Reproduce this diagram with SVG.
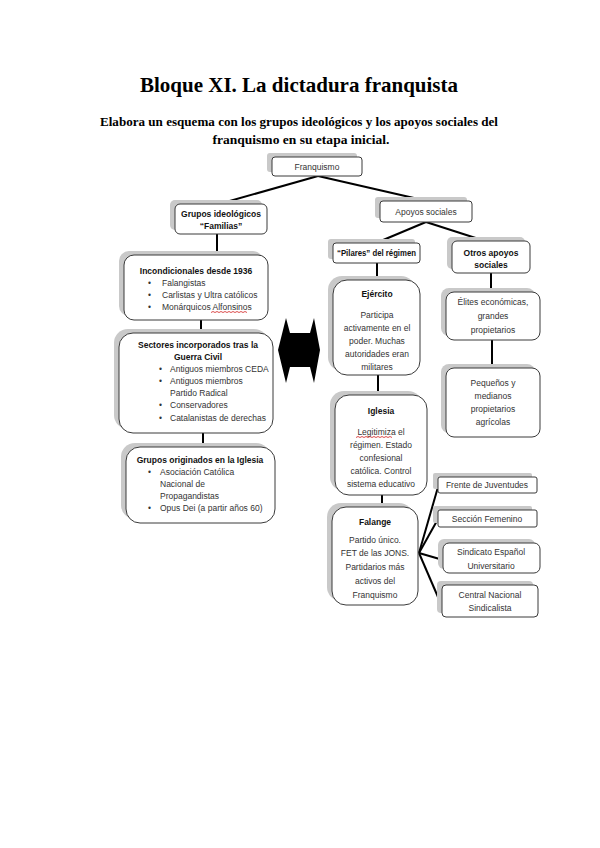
<svg xmlns="http://www.w3.org/2000/svg" width="600" height="848" viewBox="0 0 600 848">
<style>
.sh{fill:#c9c9c9}
.bx{fill:#fff;stroke:#3a3a3a;stroke-width:1}
.t{font-family:"Liberation Sans",Arial,sans-serif;font-size:8.5px;fill:#333}
.b{font-weight:bold;fill:#111}
.c{text-anchor:middle}
.ln{stroke:#000;stroke-width:2;fill:none}
.sq{stroke:#d02020;stroke-width:0.8;fill:none}
.hd{font-family:"Liberation Serif","Times New Roman",serif;font-weight:bold;fill:#000;text-anchor:middle}
</style>
<rect width="600" height="848" fill="#fff"/>
<g id="title">
<text class="hd" x="299" y="92" font-size="21" textLength="318" lengthAdjust="spacingAndGlyphs">Bloque XI. La dictadura franquista</text>
<text class="hd" x="299" y="126" font-size="12.5" textLength="398" lengthAdjust="spacingAndGlyphs">Elabora un esquema con los grupos ideológicos y los apoyos sociales del</text>
<text class="hd" x="301" y="144" font-size="12.5" textLength="177" lengthAdjust="spacingAndGlyphs">franquismo en su etapa inicial.</text>
</g>
<g id="connectors">
<line class="ln" x1="318" y1="176" x2="219" y2="204"/>
<line class="ln" x1="318" y1="176" x2="427" y2="201"/>
<line class="ln" x1="217" y1="234" x2="217" y2="255"/>
<line class="ln" x1="201" y1="320" x2="201" y2="333"/>
<line class="ln" x1="203" y1="433" x2="203" y2="447"/>
<line class="ln" x1="426" y1="222" x2="376" y2="243"/>
<line class="ln" x1="426" y1="222" x2="485" y2="241"/>
<line class="ln" x1="377" y1="263" x2="377" y2="280"/>
<line class="ln" x1="378" y1="375" x2="378" y2="395"/>
<line class="ln" x1="382" y1="495" x2="382" y2="507"/>
<line class="ln" x1="491" y1="273" x2="491" y2="292"/>
<line class="ln" x1="492" y1="340" x2="492" y2="368"/>
<line class="ln" x1="419" y1="553" x2="438" y2="487"/>
<line class="ln" x1="419" y1="553" x2="438" y2="519"/>
<line class="ln" x1="419" y1="553" x2="443" y2="560"/>
<line class="ln" x1="419" y1="553" x2="441" y2="604"/>
</g>
<g id="double-arrow">
<polygon points="286,318 290,333 310,333 314,318 320,350 314,383 310,367 290,367 286,383 278,350" fill="#000"/>
</g>
<g id="franquismo">
<rect class="sh" x="267" y="153" width="90" height="19" rx="3"/>
<rect class="bx" x="272" y="157" width="90" height="19" rx="3"/>
<text class="t c" x="317" y="170">Franquismo</text>
</g>
<g id="grupos-ideologicos">
<rect class="sh" x="170" y="200" width="92" height="30" rx="5"/>
<rect class="bx" x="175" y="204" width="92" height="30" rx="5"/>
<text class="t b c" x="221" y="217">Grupos ideológicos</text>
<text class="t b c" x="221" y="229">“Familias”</text>
</g>
<g id="apoyos-sociales">
<rect class="sh" x="375" y="197" width="92" height="21" rx="3"/>
<rect class="bx" x="380" y="201" width="92" height="21" rx="3"/>
<text class="t c" x="426" y="215">Apoyos sociales</text>
</g>
<g id="incondicionales">
<rect class="sh" x="119" y="251" width="144" height="65" rx="10"/>
<rect class="bx" x="124" y="255" width="144" height="65" rx="10"/>
<text class="t b c" x="196" y="274">Incondicionales desde 1936</text>
<text class="t" x="148" y="286">•</text><text class="t" x="162" y="286">Falangistas</text>
<text class="t" x="148" y="298">•</text><text class="t" x="162" y="298">Carlistas y Ultra católicos</text>
<text class="t" x="148" y="310">•</text><text class="t" x="162" y="310">Monárquicos Alfonsinos</text>
<path class="sq" d="M211,312.5 l2,-1 l2,1 l2,-1 l2,1 l2,-1 l2,1 l2,-1 l2,1 l2,-1 l2,1 l2,-1 l2,1 l2,-1 l2,1 l2,-1 l2,1 l2,-1 l2,1"/>
</g>
<g id="sectores">
<rect class="sh" x="114" y="329" width="154" height="100" rx="14"/>
<rect class="bx" x="119" y="333" width="154" height="100" rx="14"/>
<text class="t b c" x="198" y="348">Sectores incorporados tras la</text>
<text class="t b c" x="198" y="360">Guerra Civil</text>
<text class="t" x="159" y="372">•</text><text class="t" x="170" y="372">Antiguos miembros CEDA</text>
<text class="t" x="159" y="384">•</text><text class="t" x="170" y="384">Antiguos miembros</text>
<text class="t" x="170" y="396">Partido Radical</text>
<text class="t" x="159" y="408">•</text><text class="t" x="170" y="408">Conservadores</text>
<text class="t" x="159" y="421">•</text><text class="t" x="170" y="421">Catalanistas de derechas</text>
</g>
<g id="grupos-iglesia">
<rect class="sh" x="121" y="443" width="149" height="76" rx="14"/>
<rect class="bx" x="126" y="447" width="149" height="76" rx="14"/>
<text class="t b c" x="200" y="463">Grupos originados en la Iglesia</text>
<text class="t" x="148" y="475">•</text><text class="t" x="160" y="475">Asociación Católica</text>
<text class="t" x="160" y="487">Nacional de</text>
<text class="t" x="160" y="499">Propagandistas</text>
<text class="t" x="148" y="511">•</text><text class="t" x="160" y="511">Opus Dei (a partir años 60)</text>
</g>
<g id="pilares">
<rect class="sh" x="328" y="239" width="87" height="20" rx="3"/>
<rect class="bx" x="333" y="243" width="87" height="20" rx="3"/>
<text class="t b c" x="376.5" y="256" textLength="79" lengthAdjust="spacingAndGlyphs">“Pilares” del régimen</text>
</g>
<g id="otros-apoyos">
<rect class="sh" x="447" y="237" width="78" height="32" rx="5"/>
<rect class="bx" x="452" y="241" width="78" height="32" rx="5"/>
<text class="t b c" x="491" y="256">Otros apoyos</text>
<text class="t b c" x="491" y="268">sociales</text>
</g>
<g id="elites">
<rect class="sh" x="441" y="288" width="94" height="48" rx="8"/>
<rect class="bx" x="446" y="292" width="94" height="48" rx="8"/>
<text class="t c" x="493" y="305">Élites económicas,</text>
<text class="t c" x="493" y="319">grandes</text>
<text class="t c" x="493" y="333">propietarios</text>
</g>
<g id="pequenos">
<rect class="sh" x="441" y="364" width="94" height="69" rx="8"/>
<rect class="bx" x="446" y="368" width="94" height="69" rx="8"/>
<text class="t c" x="493" y="386">Pequeños y</text>
<text class="t c" x="493" y="399">medianos</text>
<text class="t c" x="493" y="412">propietarios</text>
<text class="t c" x="493" y="425">agrícolas</text>
</g>
<g id="ejercito">
<rect class="sh" x="328" y="276" width="87" height="95" rx="14"/>
<rect class="bx" x="333" y="280" width="87" height="95" rx="14"/>
<text class="t b c" x="377" y="297">Ejército</text>
<text class="t c" x="377" y="318">Participa</text>
<text class="t c" x="377" y="331">activamente en el</text>
<text class="t c" x="377" y="344">poder. Muchas</text>
<text class="t c" x="377" y="357">autoridades eran</text>
<text class="t c" x="377" y="370">militares</text>
</g>
<g id="iglesia">
<rect class="sh" x="330" y="391" width="92" height="100" rx="14"/>
<rect class="bx" x="335" y="395" width="92" height="100" rx="14"/>
<text class="t b c" x="381" y="414">Iglesia</text>
<text class="t c" x="381" y="435">Legitimiza el</text>
<text class="t c" x="381" y="448">régimen. Estado</text>
<text class="t c" x="381" y="461">confesional</text>
<text class="t c" x="381" y="474">católica. Control</text>
<text class="t c" x="381" y="487">sistema educativo</text>
<path class="sq" d="M356,437.5 l2,-1 l2,1 l2,-1 l2,1 l2,-1 l2,1 l2,-1 l2,1 l2,-1 l2,1 l2,-1 l2,1 l2,-1 l2,1 l2,-1 l2,1 l2,-1 l2,1"/>
</g>
<g id="falange">
<rect class="sh" x="327" y="503" width="86" height="98" rx="14"/>
<rect class="bx" x="332" y="507" width="86" height="98" rx="14"/>
<text class="t b c" x="375" y="525">Falange</text>
<text class="t c" x="375" y="543">Partido único.</text>
<text class="t c" x="375" y="556">FET de las JONS.</text>
<text class="t c" x="375" y="570">Partidarios más</text>
<text class="t c" x="375" y="584">activos del</text>
<text class="t c" x="375" y="598">Franquismo</text>
</g>
<g id="frente-juventudes">
<rect class="sh" x="433" y="473" width="99" height="16" rx="2"/>
<rect class="bx" x="438" y="477" width="99" height="16" rx="2"/>
<text class="t c" x="487" y="488">Frente de Juventudes</text>
</g>
<g id="seccion-femenina">
<rect class="sh" x="433" y="506" width="99" height="17" rx="2"/>
<rect class="bx" x="438" y="510" width="99" height="17" rx="2"/>
<text class="t c" x="487" y="522">Sección Femenino</text>
</g>
<g id="sindicato-universitario">
<rect class="sh" x="438" y="539" width="97" height="30" rx="6"/>
<rect class="bx" x="443" y="543" width="97" height="30" rx="6"/>
<text class="t c" x="491" y="555">Sindicato Español</text>
<text class="t c" x="491" y="569">Universitario</text>
</g>
<g id="central-sindicalista">
<rect class="sh" x="437" y="581" width="96" height="32" rx="4"/>
<rect class="bx" x="442" y="585" width="96" height="32" rx="4"/>
<text class="t c" x="490" y="598">Central Nacional</text>
<text class="t c" x="490" y="611">Sindicalista</text>
</g>
</svg>
